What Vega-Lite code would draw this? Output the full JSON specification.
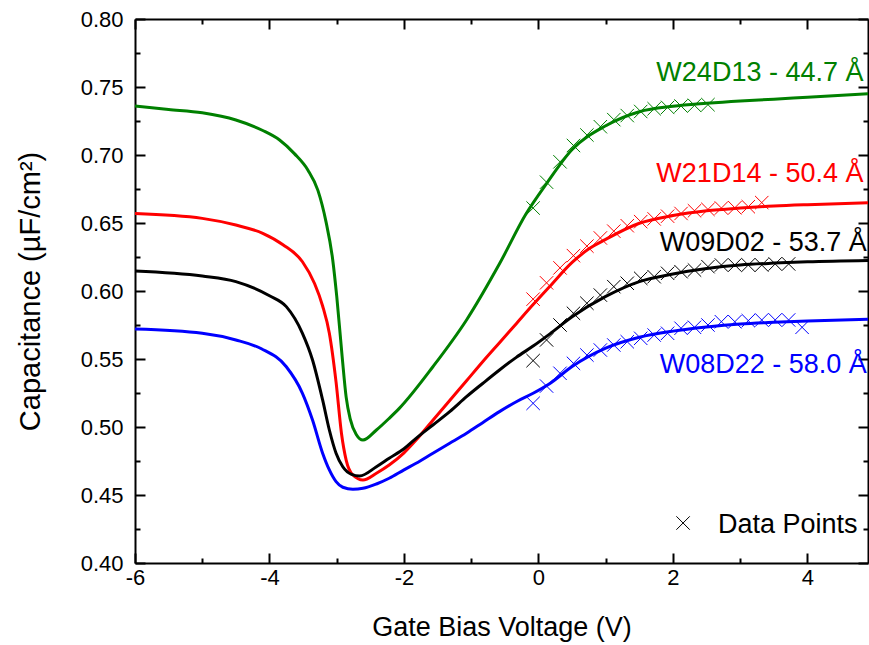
{
  "$schema": "https://vega.github.io/schema/vega-lite/v6.json",
  "width": 733,
  "height": 544,
  "autosize": {"type": "none"},
  "padding": {"left": 135, "top": 19, "right": 1, "bottom": 82},
  "background": "white",
  "config": {
    "view": {"stroke": null},
    "font": "Liberation Sans",
    "axis": {"labelFont": "Liberation Sans", "titleFont": "Liberation Sans", "labelColor": "black", "titleColor": "black", "titleFontWeight": "normal", "domainColor": "black", "tickColor": "black", "domainWidth": 2, "tickWidth": 2, "grid": false}
  },
  "datasets": {
    "curves": [
      {"s": "W24D13", "V": -6.0, "C": 0.736}, {"s": "W24D13", "V": -5.5, "C": 0.7335}, {"s": "W24D13", "V": -5.0, "C": 0.731}, {"s": "W24D13", "V": -4.5, "C": 0.7257}, {"s": "W24D13", "V": -4.1, "C": 0.718}, {"s": "W24D13", "V": -3.85, "C": 0.711}, {"s": "W24D13", "V": -3.63, "C": 0.701}, {"s": "W24D13", "V": -3.43, "C": 0.689}, {"s": "W24D13", "V": -3.28, "C": 0.674}, {"s": "W24D13", "V": -3.16, "C": 0.651}, {"s": "W24D13", "V": -3.06, "C": 0.623}, {"s": "W24D13", "V": -3.0, "C": 0.596}, {"s": "W24D13", "V": -2.92, "C": 0.552}, {"s": "W24D13", "V": -2.86, "C": 0.522}, {"s": "W24D13", "V": -2.8, "C": 0.506}, {"s": "W24D13", "V": -2.71, "C": 0.4945}, {"s": "W24D13", "V": -2.61, "C": 0.4904}, {"s": "W24D13", "V": -2.41, "C": 0.4978}, {"s": "W24D13", "V": -2.22, "C": 0.5064}, {"s": "W24D13", "V": -2.07, "C": 0.5137}, {"s": "W24D13", "V": -1.57, "C": 0.5443}, {"s": "W24D13", "V": -1.07, "C": 0.5787}, {"s": "W24D13", "V": -0.58, "C": 0.62}, {"s": "W24D13", "V": -0.18, "C": 0.6571}, {"s": "W24D13", "V": 0.12, "C": 0.679}, {"s": "W24D13", "V": 0.5, "C": 0.704}, {"s": "W24D13", "V": 1.0, "C": 0.7215}, {"s": "W24D13", "V": 1.5, "C": 0.7318}, {"s": "W24D13", "V": 2.0, "C": 0.7358}, {"s": "W24D13", "V": 2.5, "C": 0.738}, {"s": "W24D13", "V": 3.0, "C": 0.7397}, {"s": "W24D13", "V": 3.5, "C": 0.741}, {"s": "W24D13", "V": 4.0, "C": 0.7425}, {"s": "W24D13", "V": 4.9, "C": 0.745},

      {"s": "W21D14", "V": -6.0, "C": 0.657}, {"s": "W21D14", "V": -5.0, "C": 0.6534}, {"s": "W21D14", "V": -4.5, "C": 0.6485}, {"s": "W21D14", "V": -4.1, "C": 0.6424}, {"s": "W21D14", "V": -3.8, "C": 0.634}, {"s": "W21D14", "V": -3.51, "C": 0.6215}, {"s": "W21D14", "V": -3.33, "C": 0.6055}, {"s": "W21D14", "V": -3.21, "C": 0.589}, {"s": "W21D14", "V": -3.11, "C": 0.569}, {"s": "W21D14", "V": -3.01, "C": 0.533}, {"s": "W21D14", "V": -2.93, "C": 0.4954}, {"s": "W21D14", "V": -2.86, "C": 0.4757}, {"s": "W21D14", "V": -2.76, "C": 0.4647}, {"s": "W21D14", "V": -2.61, "C": 0.461}, {"s": "W21D14", "V": -2.41, "C": 0.466}, {"s": "W21D14", "V": -2.22, "C": 0.472}, {"s": "W21D14", "V": -2.0, "C": 0.481}, {"s": "W21D14", "V": -1.82, "C": 0.4904}, {"s": "W21D14", "V": -1.57, "C": 0.505}, {"s": "W21D14", "V": -1.32, "C": 0.5195}, {"s": "W21D14", "V": -1.07, "C": 0.534}, {"s": "W21D14", "V": -0.83, "C": 0.548}, {"s": "W21D14", "V": -0.58, "C": 0.562}, {"s": "W21D14", "V": -0.33, "C": 0.576}, {"s": "W21D14", "V": -0.08, "C": 0.59}, {"s": "W21D14", "V": 0.17, "C": 0.6035}, {"s": "W21D14", "V": 0.5, "C": 0.621}, {"s": "W21D14", "V": 0.75, "C": 0.631}, {"s": "W21D14", "V": 1.0, "C": 0.638}, {"s": "W21D14", "V": 1.5, "C": 0.6498}, {"s": "W21D14", "V": 2.0, "C": 0.6555}, {"s": "W21D14", "V": 2.5, "C": 0.659}, {"s": "W21D14", "V": 3.0, "C": 0.661}, {"s": "W21D14", "V": 3.5, "C": 0.6625}, {"s": "W21D14", "V": 4.0, "C": 0.6635}, {"s": "W21D14", "V": 4.9, "C": 0.6648},

      {"s": "W09D02", "V": -6.0, "C": 0.6147}, {"s": "W09D02", "V": -5.0, "C": 0.611}, {"s": "W09D02", "V": -4.5, "C": 0.6069}, {"s": "W09D02", "V": -4.0, "C": 0.5965}, {"s": "W09D02", "V": -3.75, "C": 0.5885}, {"s": "W09D02", "V": -3.51, "C": 0.5689}, {"s": "W09D02", "V": -3.36, "C": 0.5493}, {"s": "W09D02", "V": -3.21, "C": 0.5199}, {"s": "W09D02", "V": -3.11, "C": 0.4978}, {"s": "W09D02", "V": -3.01, "C": 0.4807}, {"s": "W09D02", "V": -2.91, "C": 0.4708}, {"s": "W09D02", "V": -2.78, "C": 0.4652}, {"s": "W09D02", "V": -2.66, "C": 0.464}, {"s": "W09D02", "V": -2.41, "C": 0.4708}, {"s": "W09D02", "V": -2.22, "C": 0.477}, {"s": "W09D02", "V": -2.0, "C": 0.484}, {"s": "W09D02", "V": -1.82, "C": 0.4917}, {"s": "W09D02", "V": -1.57, "C": 0.5015}, {"s": "W09D02", "V": -1.32, "C": 0.5113}, {"s": "W09D02", "V": -1.07, "C": 0.5223}, {"s": "W09D02", "V": -0.83, "C": 0.532}, {"s": "W09D02", "V": -0.58, "C": 0.5419}, {"s": "W09D02", "V": -0.33, "C": 0.5512}, {"s": "W09D02", "V": -0.08, "C": 0.5595}, {"s": "W09D02", "V": 0.17, "C": 0.5685}, {"s": "W09D02", "V": 0.5, "C": 0.581}, {"s": "W09D02", "V": 1.0, "C": 0.596}, {"s": "W09D02", "V": 1.5, "C": 0.6069}, {"s": "W09D02", "V": 2.0, "C": 0.6125}, {"s": "W09D02", "V": 2.5, "C": 0.6165}, {"s": "W09D02", "V": 3.0, "C": 0.6191}, {"s": "W09D02", "V": 3.5, "C": 0.6205}, {"s": "W09D02", "V": 4.0, "C": 0.6215}, {"s": "W09D02", "V": 4.9, "C": 0.6225},

      {"s": "W08D22", "V": -6.0, "C": 0.572}, {"s": "W08D22", "V": -5.0, "C": 0.5689}, {"s": "W08D22", "V": -4.5, "C": 0.564}, {"s": "W08D22", "V": -4.12, "C": 0.5575}, {"s": "W08D22", "V": -3.75, "C": 0.5443}, {"s": "W08D22", "V": -3.51, "C": 0.5248}, {"s": "W08D22", "V": -3.36, "C": 0.5051}, {"s": "W08D22", "V": -3.21, "C": 0.4807}, {"s": "W08D22", "V": -3.11, "C": 0.4684}, {"s": "W08D22", "V": -3.01, "C": 0.4598}, {"s": "W08D22", "V": -2.91, "C": 0.4557}, {"s": "W08D22", "V": -2.76, "C": 0.4542}, {"s": "W08D22", "V": -2.61, "C": 0.4549}, {"s": "W08D22", "V": -2.41, "C": 0.4581}, {"s": "W08D22", "V": -2.22, "C": 0.4623}, {"s": "W08D22", "V": -2.0, "C": 0.4685}, {"s": "W08D22", "V": -1.82, "C": 0.4733}, {"s": "W08D22", "V": -1.57, "C": 0.4807}, {"s": "W08D22", "V": -1.32, "C": 0.488}, {"s": "W08D22", "V": -1.07, "C": 0.4954}, {"s": "W08D22", "V": -0.83, "C": 0.5032}, {"s": "W08D22", "V": -0.58, "C": 0.5113}, {"s": "W08D22", "V": -0.33, "C": 0.5186}, {"s": "W08D22", "V": -0.08, "C": 0.5248}, {"s": "W08D22", "V": 0.17, "C": 0.532}, {"s": "W08D22", "V": 0.5, "C": 0.5445}, {"s": "W08D22", "V": 1.0, "C": 0.558}, {"s": "W08D22", "V": 1.5, "C": 0.566}, {"s": "W08D22", "V": 2.0, "C": 0.5705}, {"s": "W08D22", "V": 2.5, "C": 0.5735}, {"s": "W08D22", "V": 3.0, "C": 0.5757}, {"s": "W08D22", "V": 3.5, "C": 0.577}, {"s": "W08D22", "V": 4.0, "C": 0.578}, {"s": "W08D22", "V": 4.9, "C": 0.5792}
    ],
    "points": [
      {"s": "W24D13", "V": -0.08, "C": 0.661}, {"s": "W24D13", "V": 0.12, "C": 0.68}, {"s": "W24D13", "V": 0.32, "C": 0.695}, {"s": "W24D13", "V": 0.52, "C": 0.707}, {"s": "W24D13", "V": 0.72, "C": 0.7147}, {"s": "W24D13", "V": 0.92, "C": 0.7208}, {"s": "W24D13", "V": 1.12, "C": 0.726}, {"s": "W24D13", "V": 1.32, "C": 0.729}, {"s": "W24D13", "V": 1.52, "C": 0.732}, {"s": "W24D13", "V": 1.72, "C": 0.734}, {"s": "W24D13", "V": 1.92, "C": 0.735}, {"s": "W24D13", "V": 2.12, "C": 0.736}, {"s": "W24D13", "V": 2.32, "C": 0.7365}, {"s": "W24D13", "V": 2.52, "C": 0.737},

      {"s": "W21D14", "V": -0.08, "C": 0.594}, {"s": "W21D14", "V": 0.12, "C": 0.606}, {"s": "W21D14", "V": 0.32, "C": 0.617}, {"s": "W21D14", "V": 0.52, "C": 0.626}, {"s": "W21D14", "V": 0.72, "C": 0.633}, {"s": "W21D14", "V": 0.92, "C": 0.639}, {"s": "W21D14", "V": 1.12, "C": 0.644}, {"s": "W21D14", "V": 1.32, "C": 0.648}, {"s": "W21D14", "V": 1.52, "C": 0.651}, {"s": "W21D14", "V": 1.72, "C": 0.653}, {"s": "W21D14", "V": 1.92, "C": 0.655}, {"s": "W21D14", "V": 2.12, "C": 0.657}, {"s": "W21D14", "V": 2.32, "C": 0.659}, {"s": "W21D14", "V": 2.52, "C": 0.66}, {"s": "W21D14", "V": 2.72, "C": 0.661}, {"s": "W21D14", "V": 2.92, "C": 0.6612}, {"s": "W21D14", "V": 3.12, "C": 0.662}, {"s": "W21D14", "V": 3.32, "C": 0.665},

      {"s": "W09D02", "V": -0.08, "C": 0.5488}, {"s": "W09D02", "V": 0.12, "C": 0.564}, {"s": "W09D02", "V": 0.32, "C": 0.575}, {"s": "W09D02", "V": 0.52, "C": 0.5836}, {"s": "W09D02", "V": 0.72, "C": 0.591}, {"s": "W09D02", "V": 0.92, "C": 0.597}, {"s": "W09D02", "V": 1.12, "C": 0.6032}, {"s": "W09D02", "V": 1.32, "C": 0.6057}, {"s": "W09D02", "V": 1.52, "C": 0.6093}, {"s": "W09D02", "V": 1.72, "C": 0.6105}, {"s": "W09D02", "V": 1.92, "C": 0.613}, {"s": "W09D02", "V": 2.12, "C": 0.6142}, {"s": "W09D02", "V": 2.32, "C": 0.6154}, {"s": "W09D02", "V": 2.52, "C": 0.6179}, {"s": "W09D02", "V": 2.72, "C": 0.6191}, {"s": "W09D02", "V": 2.92, "C": 0.6191}, {"s": "W09D02", "V": 3.12, "C": 0.6191}, {"s": "W09D02", "V": 3.32, "C": 0.6191}, {"s": "W09D02", "V": 3.52, "C": 0.6199}, {"s": "W09D02", "V": 3.72, "C": 0.6199},

      {"s": "W08D22", "V": -0.08, "C": 0.5174}, {"s": "W08D22", "V": 0.12, "C": 0.5301}, {"s": "W08D22", "V": 0.32, "C": 0.5395}, {"s": "W08D22", "V": 0.52, "C": 0.5468}, {"s": "W08D22", "V": 0.72, "C": 0.5529}, {"s": "W08D22", "V": 0.92, "C": 0.5566}, {"s": "W08D22", "V": 1.12, "C": 0.5603}, {"s": "W08D22", "V": 1.32, "C": 0.5627}, {"s": "W08D22", "V": 1.52, "C": 0.5652}, {"s": "W08D22", "V": 1.72, "C": 0.5676}, {"s": "W08D22", "V": 1.92, "C": 0.5689}, {"s": "W08D22", "V": 2.12, "C": 0.5726}, {"s": "W08D22", "V": 2.32, "C": 0.5733}, {"s": "W08D22", "V": 2.52, "C": 0.575}, {"s": "W08D22", "V": 2.72, "C": 0.5774}, {"s": "W08D22", "V": 2.92, "C": 0.5774}, {"s": "W08D22", "V": 3.12, "C": 0.5782}, {"s": "W08D22", "V": 3.32, "C": 0.5787}, {"s": "W08D22", "V": 3.52, "C": 0.5787}, {"s": "W08D22", "V": 3.72, "C": 0.5787}, {"s": "W08D22", "V": 3.92, "C": 0.5733}
    ],
    "labels": [
      {"s": "W24D13", "V": 1.753, "C": 0.7544, "t": "W24D13 - 44.7 Å"},
      {"s": "W21D14", "V": 1.753, "C": 0.6804, "t": "W21D14 - 50.4 Å"},
      {"s": "W09D02", "V": 1.802, "C": 0.6296, "t": "W09D02 - 53.7 Å"},
      {"s": "W08D22", "V": 1.802, "C": 0.540, "t": "W08D22 - 58.0 Å"}
    ],
    "legend": [
      {"V": 2.15, "C": 0.4294, "tV": 2.67, "tC": 0.4223, "t": "Data Points"}
    ]
  },
  "resolve": {"axis": {"x": "independent", "y": "independent"}},
  "layer": [
    {
      "data": {"name": "curves"},
      "mark": {"type": "line", "strokeWidth": 3, "interpolate": "monotone"},
      "encoding": {
        "x": {"field": "V", "type": "quantitative", "scale": {"domain": [-6, 4.9], "nice": false, "zero": false},
          "axis": {"orient": "bottom", "title": "Gate Bias Voltage (V)", "titleFontSize": 27, "titlePadding": 26, "labelFontSize": 22, "labelPadding": 14, "labelFlush": false,
            "values": [-6, -5, -4, -3, -2, -1, 0, 1, 2, 3, 4],
            "labelExpr": "datum.value % 2 === 0 ? '' + datum.value : ''",
            "tickSize": {"condition": {"test": "datum.value % 2 === 0", "value": -10}, "value": -5}}},
        "y": {"field": "C", "type": "quantitative", "scale": {"domain": [0.4, 0.8], "nice": false, "zero": false},
          "axis": {"orient": "left", "title": "Capacitance (µF/cm²)", "titleFontSize": 29, "titlePadding": 35, "labelFontSize": 22, "labelPadding": 22, "labelFlush": false,
            "values": [0.4, 0.425, 0.45, 0.475, 0.5, 0.525, 0.55, 0.575, 0.6, 0.625, 0.65, 0.675, 0.7, 0.725, 0.75, 0.775, 0.8],
            "labelExpr": "round(datum.value * 1000) % 50 === 0 ? format(datum.value, '.2f') : ''",
            "tickSize": {"condition": {"test": "round(datum.value * 1000) % 50 === 0", "value": -10}, "value": -5}}},
        "color": {"field": "s", "type": "nominal", "scale": {"domain": ["W24D13", "W21D14", "W09D02", "W08D22"], "range": ["#008000", "#ff0000", "#000000", "#0000ff"]}, "legend": null}
      }
    },
    {
      "data": {"name": "curves"},
      "mark": {"type": "point", "opacity": 0},
      "encoding": {
        "x": {"field": "V", "type": "quantitative",
          "axis": {"orient": "top", "title": null, "labels": false,
            "values": [-6, -5, -4, -3, -2, -1, 0, 1, 2, 3, 4],
            "tickSize": {"condition": {"test": "datum.value % 2 === 0", "value": -10}, "value": -5}}},
        "y": {"field": "C", "type": "quantitative",
          "axis": {"orient": "right", "title": null, "labels": false,
            "values": [0.4, 0.425, 0.45, 0.475, 0.5, 0.525, 0.55, 0.575, 0.6, 0.625, 0.65, 0.675, 0.7, 0.725, 0.75, 0.775, 0.8],
            "tickSize": {"condition": {"test": "round(datum.value * 1000) % 50 === 0", "value": -10}, "value": -5}}}
      }
    },
    {
      "data": {"name": "points"},
      "mark": {"type": "point", "shape": "M-1,-1L1,1M1,-1L-1,1", "filled": false, "strokeWidth": 1, "size": 180, "opacity": 1},
      "encoding": {
        "x": {"field": "V", "type": "quantitative", "axis": null},
        "y": {"field": "C", "type": "quantitative", "axis": null},
        "color": {"field": "s", "type": "nominal", "legend": null}
      }
    },
    {
      "data": {"name": "labels"},
      "mark": {"type": "text", "align": "left", "baseline": "alphabetic", "fontSize": 27, "font": "Liberation Sans"},
      "encoding": {
        "x": {"field": "V", "type": "quantitative", "axis": null},
        "y": {"field": "C", "type": "quantitative", "axis": null},
        "text": {"field": "t"},
        "color": {"field": "s", "type": "nominal", "legend": null}
      }
    },
    {
      "data": {"name": "legend"},
      "mark": {"type": "point", "shape": "M-1,-1L1,1M1,-1L-1,1", "filled": false, "strokeWidth": 1, "size": 180, "opacity": 1, "color": "black"},
      "encoding": {
        "x": {"field": "V", "type": "quantitative", "axis": null},
        "y": {"field": "C", "type": "quantitative", "axis": null}
      }
    },
    {
      "data": {"name": "legend"},
      "mark": {"type": "text", "align": "left", "baseline": "alphabetic", "fontSize": 27, "font": "Liberation Sans", "color": "black"},
      "encoding": {
        "x": {"field": "tV", "type": "quantitative", "axis": null},
        "y": {"field": "tC", "type": "quantitative", "axis": null},
        "text": {"field": "t"}
      }
    }
  ]
}
